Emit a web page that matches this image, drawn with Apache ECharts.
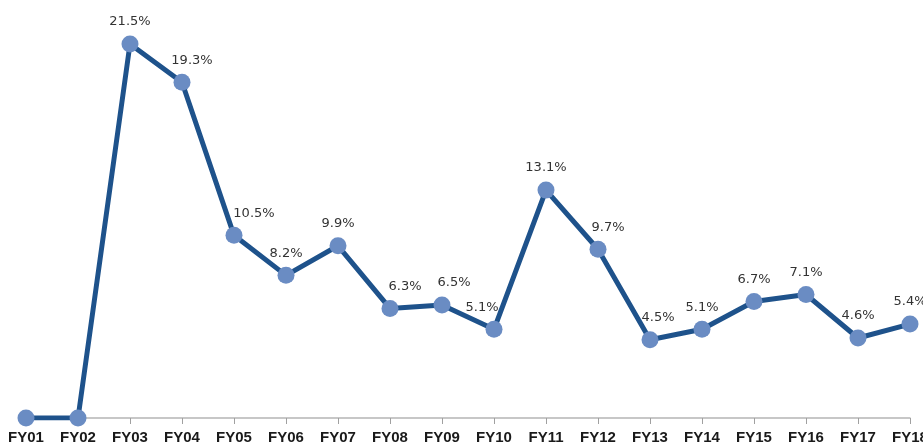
<!DOCTYPE html>
<html><head><meta charset="utf-8">
<script src="https://cdn.jsdelivr.net/npm/echarts@6/dist/echarts.min.js"></script>
<style>html,body{margin:0;padding:0;background:#fff}#c{width:923px;height:443px}</style>
</head><body><div id="c"></div>
<script>
const categories = ['FY01','FY02','FY03','FY04','FY05','FY06','FY07','FY08','FY09','FY10','FY11','FY12','FY13','FY14','FY15','FY16','FY17','FY18'];
const values = [0, 0, 21.5, 19.3, 10.5, 8.2, 9.9, 6.3, 6.5, 5.1, 13.1, 9.7, 4.5, 5.1, 6.7, 7.1, 4.6, 5.4];
// horizontal nudge (px) of each value label, as placed in the original
const labelShiftX = [0, 0, 0, 10, 20, 0, 0, 15, 12, -12, 0, 10, 8, 0, 0, 0, 0, 0];

const seriesData = values.map((v, i) => ({
  value: v,
  label: {offset: [labelShiftX[i], 0]}
}));

const chart = echarts.init(document.getElementById('c'));
chart.setOption({
  animation: false,
  grid: {left: 26, right: 13, top: 44, bottom: 25, containLabel: false, outerBoundsMode: 'none'},
  xAxis: {
    type: 'category', data: categories, boundaryGap: false,
    axisLine: {lineStyle: {color: '#b5b5b5', width: 1.5}},
    axisTick: {alignWithLabel: true, length: 6, lineStyle: {color: '#a0a0a0'}},
    axisLabel: {color: '#1a1a1a', fontWeight: 'bold', fontSize: 15, fontFamily: 'Liberation Sans, Arial, sans-serif', margin: 12, interval: 0}
  },
  yAxis: {type: 'value', min: 0, max: 21.5, show: false, splitLine: {show: false}},
  series: [{
    type: 'line', data: seriesData,
    symbol: 'circle', symbolSize: 17,
    lineStyle: {color: '#1e528b', width: 5},
    itemStyle: {color: '#6a8cc3', borderWidth: 0},
    label: {
      show: true, position: 'top', distance: 7, color: '#333', fontSize: 13,
      fontFamily: 'DejaVu Sans, sans-serif',
      formatter: p => p.value === 0 ? '' : p.value.toFixed(1) + '%'
    }
  }]
});
</script></body></html>
